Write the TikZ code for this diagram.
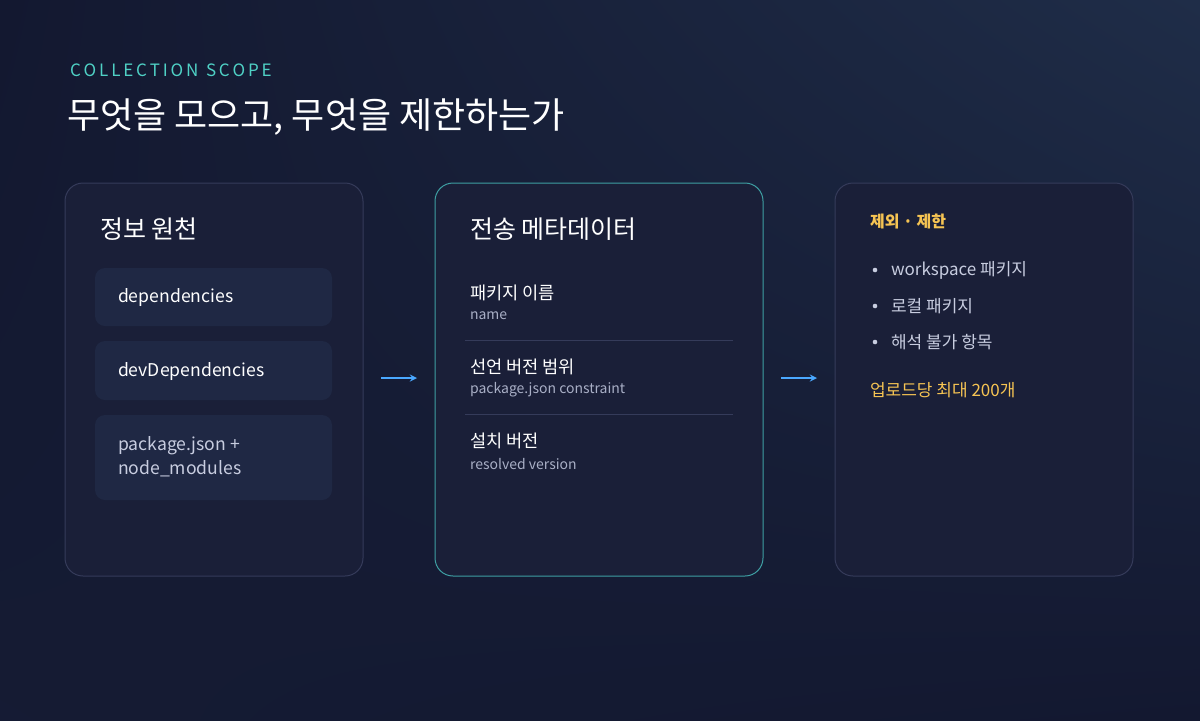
\documentclass[tikz,border=0pt]{standalone}
\usepackage{fontspec}
\setmainfont{Noto Sans CJK KR}
\usetikzlibrary{positioning,shadings}
\definecolor{bgdark}{HTML}{131830}
\definecolor{bglight}{HTML}{1F2D48}
\definecolor{cardfill}{HTML}{1A1F38}
\definecolor{cardline}{HTML}{353B5A}
\definecolor{tealline}{HTML}{3E9FA3}
\definecolor{boxfill}{HTML}{1F2844}
\definecolor{accent}{HTML}{4FD1C5}
\definecolor{amber}{HTML}{F6C453}
\definecolor{arrowblue}{HTML}{4AA8FF}
\definecolor{soft}{HTML}{C8CDE0}
\definecolor{dim}{HTML}{A9AFC6}

\begin{document}
\begin{tikzpicture}
[x=0.5pt,y=-0.5pt,
card/.style={rounded corners=9pt,fill=cardfill,draw=cardline,line width=0.5pt},
srcbox/.style={rounded corners=5pt,fill=boxfill},
heading/.style={anchor=west,text=white,font=\fontsize{12.5}{15}\selectfont},
itemtext/.style={anchor=west,text=white,font=\fontsize{8.8}{11}\selectfont},
subtext/.style={anchor=west,text=dim,font=\fontsize{7}{9}\selectfont},
bullet item/.style={anchor=west,text=soft,font=\fontsize{8.5}{10}\selectfont},
flow/.style={->,>=stealth,arrowblue,line width=0.6pt},
divider/.style={draw=cardline,line width=0.5pt}
]
\useasboundingbox (0,0) rectangle (1200,720);
\shade [upper left=bgdark,upper right=bglight,lower left=bgdark!85!bglight,lower right=bgdark] (0,0) rectangle (1200,720);

% header
\node [anchor=west,text=accent,font=\fontsize{8.5}{10}\selectfont] (kicker) at (63,70) {C\,O\,L\,L\,E\,C\,T\,I\,O\,N\ \ S\,C\,O\,P\,E};
\node [anchor=west,text=white,font=\fontsize{18}{22}\selectfont] (title) at (60,117) {무엇을 모으고, 무엇을 제한하는가};

% cards
\draw [card] (65,183) rectangle (363,576);
\draw [card,draw=tealline] (435,183) rectangle (763,576);
\draw [card] (835,183) rectangle (1133,576);

% sources
\node [heading] (srcHead) at (93,229) {정보 원천};
\fill [srcbox] (95,268) rectangle (332,326);
\fill [srcbox] (95,341) rectangle (332,400);
\fill [srcbox] (95,415) rectangle (332,500);
\node [itemtext] (deps) at (111,297) {dependencies};
\node [itemtext] (devDeps) at (111,371) {devDependencies};
\node [itemtext,text=soft,align=left] (pkgFiles) at (111,457) {package.json +\\[1pt]node\_modules};

% metadata
\node [heading] (metaHead) at (463,229) {전송 메타데이터};
\node [itemtext] (nameLbl) at (463,293) {패키지 이름};
\node [subtext] (nameSub) at (463,316) {name};
\draw [divider] (465,340) -- (733,340);
\node [itemtext] (rangeLbl) at (463,367) {선언 버전 범위};
\node [subtext] (rangeSub) at (463,390) {package.json constraint};
\draw [divider] (465,414) -- (733,414);
\node [itemtext] (resLbl) at (463,441) {설치 버전};
\node [subtext] (resSub) at (463,464) {resolved version};

% limits
\node [anchor=west,text=amber,font=\bfseries\fontsize{8}{10}\selectfont] (limHead) at (863,222) {제외 · 제한};
\foreach \txt/\yy in {workspace 패키지/270,로컬 패키지/306,해석 불가 항목/342}{
  \fill [soft] (875,\yy) circle (2.3);
  \node [bullet item] at (884,\yy) {\txt};
}
\node [anchor=west,text=amber,font=\fontsize{8.5}{10}\selectfont] (limNote) at (863,390) {업로드당 최대 200개};

% arrows
\coordinate (a1s) at (381,378); \coordinate (a1e) at (417,378);
\coordinate (a2s) at (781,378); \coordinate (a2e) at (817,378);
\draw [flow] (a1s) -- (a1e);
\draw [flow] (a2s) -- (a2e);
\end{tikzpicture}
\end{document}
